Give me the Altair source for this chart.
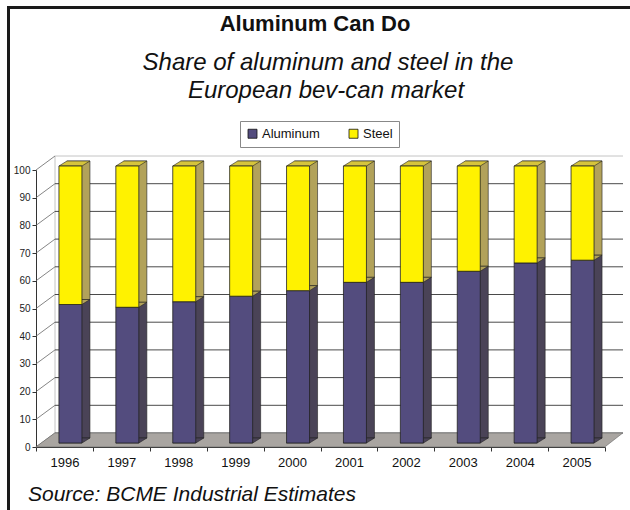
import altair as alt
import pandas as pd

# ---- data ----
years = ["1996", "1997", "1998", "1999", "2000", "2001", "2002", "2003", "2004", "2005"]
aluminum = [50, 49, 51, 53, 55, 58, 58, 62, 65, 66]
steel = [50, 51, 49, 47, 45, 42, 42, 38, 35, 34]
series_names = ["Aluminum", "Steel"]
y_ticks = list(range(0, 101, 10))

rows = []
for yr, a, s in zip(years, aluminum, steel):
    rows.append({"year": yr, "series": "Aluminum", "lo": 0, "hi": a})
    rows.append({"year": yr, "series": "Steel", "lo": a, "hi": a + s})
bars_df = pd.DataFrame(rows)
ticks_df = pd.DataFrame({"v": y_ticks})
one = alt.Data(values=[{}])

# ---- layout / style ----
W, H = 569, 277
FONT = "Liberation Sans"
AL_FRONT, ST_FRONT = "#534C7E", "#FFF200"
AL_SIDE, ST_SIDE, ST_TOP = "#4A4357", "#B2A25A", "#D6C43C"
DX, DY = 19, -14          # wall depth
BX, BY = 6, -4            # bar plane shift
BW = 23                   # bar width
side_fill = alt.condition(alt.datum.series == "Aluminum", alt.value(AL_SIDE), alt.value(ST_SIDE))

x_scale = alt.Scale(domain=years, paddingInner=0, paddingOuter=0)
y_scale = alt.Scale(domain=[0, 100], nice=False)

x_axis = alt.Axis(title=None, labelAngle=0, labelFont=FONT, labelFontSize=13, labelColor="#111",
                  labelPadding=5, tickBand="extent", tickSize=4, tickColor="#333",
                  domainColor="#333", grid=False)
y_axis = alt.Axis(title=None, values=y_ticks, labelFont=FONT, labelFontSize=10, labelColor="#222",
                  labelPadding=2, tickSize=4, tickColor="#333", domainColor="#333", grid=False)

X = alt.X("year:N", scale=x_scale, axis=x_axis)


def Y(field):
    return alt.Y(field, scale=y_scale, axis=y_axis)


# frame lines
frame_top = alt.Chart(one).mark_rule(color="#1a1a1a", strokeWidth=3).encode(
    x=alt.value(-29), x2=alt.value(W + 25), y=alt.value(-162.5))
frame_left = alt.Chart(one).mark_rule(color="#1a1a1a", strokeWidth=3).encode(
    x=alt.value(-27.5), y=alt.value(-164), y2=alt.value(H + 70))

# back wall
wall_edge = alt.Chart(one).mark_rule(color="#c4c4c4", strokeWidth=1).encode(
    x=alt.value(DX), y=alt.value(DY), y2=alt.value(H + DY))
grid = alt.Chart(ticks_df).mark_rule(yOffset=DY, strokeWidth=1).encode(
    x=alt.value(DX), x2=alt.value(W + DX - 1),
    y=Y("v:Q"),
    color=alt.condition(alt.datum.v == 100, alt.value("#c4c4c4"), alt.value("#4a4a4a")))
connectors = alt.Chart(ticks_df).mark_rule(y2Offset=DY, color="#666", strokeWidth=0.8).encode(
    x=alt.value(0), x2=alt.value(DX),
    y=Y("v:Q"), y2="v:Q")

# floor
floor = alt.Chart(one).mark_point(
    shape="M -294 7 L 275 7 L 293 -7 L -275 -7 Z", size=4, filled=True,
    fill="#A9A5A1", stroke="#666", strokeWidth=0.6, opacity=1).encode(
    x=alt.value(293.75), y=alt.value(H + DY / 2))

# 3D bars: back block, bottom slants, top face, front face
base = alt.Chart(bars_df)
block = base.mark_bar(size=BW, xOffset=BX + 8, yOffset=BY - 5, y2Offset=BY - 5,
                      stroke="#222", strokeWidth=0.6).encode(
    x=X, y=Y("hi:Q"), y2="lo:Q", fill=side_fill)
slant = base.mark_point(shape="M -11.5 0 L 11.5 0 L 19.5 -5 L -3.5 -5 Z", size=4, filled=True,
                        xOffset=BX, yOffset=BY, opacity=1, strokeWidth=0.6, stroke="#222").encode(
    x=X, y=Y("lo:Q"), fill=side_fill)
top = base.transform_filter(alt.datum.series == "Steel").mark_point(
    shape="M -11.5 0 L 11.5 0 L 19.5 -5 L -3.5 -5 Z", size=4, filled=True,
    xOffset=BX, yOffset=BY, opacity=1, fill=ST_TOP, stroke="#222", strokeWidth=0.6).encode(
    x=X, y=Y("hi:Q"))
front = base.mark_bar(size=BW, xOffset=BX, yOffset=BY, y2Offset=BY,
                      stroke="#222", strokeWidth=0.8).encode(
    x=X, y=Y("hi:Q"), y2="lo:Q",
    color=alt.Color("series:N", scale=alt.Scale(domain=series_names, range=[AL_FRONT, ST_FRONT]),
                    legend=alt.Legend(orient="none", legendX=204, legendY=-49, direction="horizontal",
                                      title=None, symbolType="square", symbolSize=81,
                                      symbolStrokeColor="#111", symbolStrokeWidth=0.8,
                                      symbolOpacity=1, labelFont=FONT, labelFontSize=13,
                                      labelColor="#111", labelOffset=3, columnPadding=27,
                                      padding=6, strokeColor="#888", fillColor="white")))


# texts
def txt(s, x, y, size, weight="normal", style="normal", align="center"):
    return alt.Chart(one).mark_text(text=s, font=FONT, fontSize=size, fontWeight=weight,
                                    fontStyle=style, align=align, baseline="alphabetic",
                                    color="#111").encode(x=alt.value(x), y=alt.value(y))


title = txt("Aluminum Can Do", 279, -139, 22, weight="bold")
sub1 = txt("Share of aluminum and steel in the", 292, -100, 24, style="italic")
sub2 = txt("European bev-can market", 290, -72, 24, style="italic")
source = txt("Source: BCME Industrial Estimates", -8, 331, 21, style="italic", align="left")

chart = alt.layer(
    frame_top, frame_left, wall_edge, grid, connectors, floor,
    block, slant, top, front, title, sub1, sub2, source
).properties(
    width=W, height=H, autosize="none",
    padding={"left": 36, "top": 170, "right": 25, "bottom": 63},
    background="white"
).configure_view(stroke=None)

chart.save("out.html", embed_options={"renderer": "svg", "actions": False})
